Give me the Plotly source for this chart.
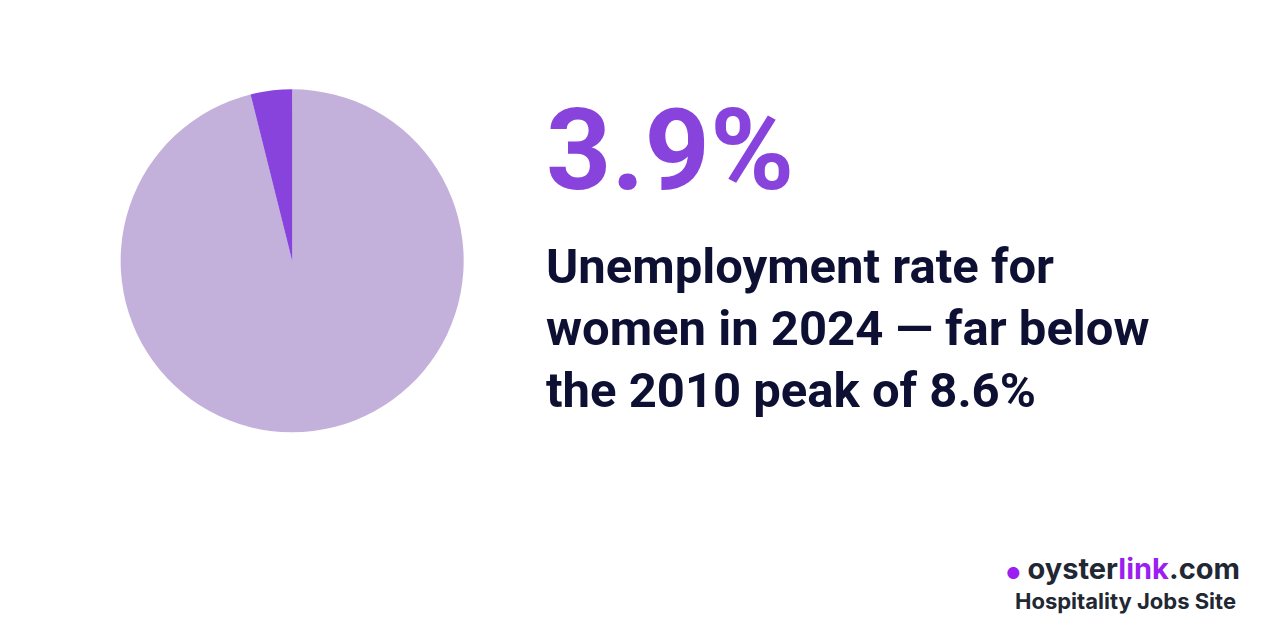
import plotly.graph_objects as go

labels = ["Other", "Unemployed women"]
values = [96.1, 3.9]
headline = "3.9%"
caption_lines = ["Unemployment rate for", "women in 2024 — far below", "the 2010 peak of 8.6%"]

fig = go.Figure(
    go.Pie(
        labels=labels,
        values=values,
        sort=False,
        direction="clockwise",
        rotation=0,
        marker=dict(colors=["#c3b1db", "#8743dc"]),
        textinfo="none",
        hoverinfo="label+percent",
        domain=dict(x=[0.088, 0.356], y=[0.336, 0.874]),
        showlegend=False,
    )
)

fig.add_annotation(
    x=536 / 1280, y=1 - 142 / 640, xref="paper", yref="paper",
    text=headline, showarrow=False, xanchor="left", yanchor="middle",
    font=dict(family="Roboto", size=114, color="#8743dc", weight="bold"),
)
for i, line in enumerate(caption_lines):
    fig.add_annotation(
        x=536 / 1280, y=1 - (258 + 62 * i) / 640, xref="paper", yref="paper",
        text=line, showarrow=False, xanchor="left", yanchor="middle",
        font=dict(family="Roboto", size=49, color="#0d1033", weight="bold"),
    )

fig.add_annotation(
    x=1234 / 1280, y=1 - 560 / 640, xref="paper", yref="paper",
    text="<span style='color:#9b1ff0;font-size:16px'>●</span> oyster<span style='color:#9b1ff0'>link</span>.com",
    showarrow=False, xanchor="right", yanchor="middle",
    font=dict(family="Inter", size=29, color="#1f2833", weight="bold"),
)
fig.add_annotation(
    x=1230 / 1280, y=1 - 593 / 640, xref="paper", yref="paper",
    text="Hospitality Jobs Site", showarrow=False, xanchor="right", yanchor="middle",
    font=dict(family="Inter", size=22, color="#1f2833", weight="bold"),
)

fig.update_layout(
    width=1280, height=640,
    margin=dict(l=0, r=0, t=0, b=0),
    paper_bgcolor="white", plot_bgcolor="white",
)

fig.write_html("out.html")
